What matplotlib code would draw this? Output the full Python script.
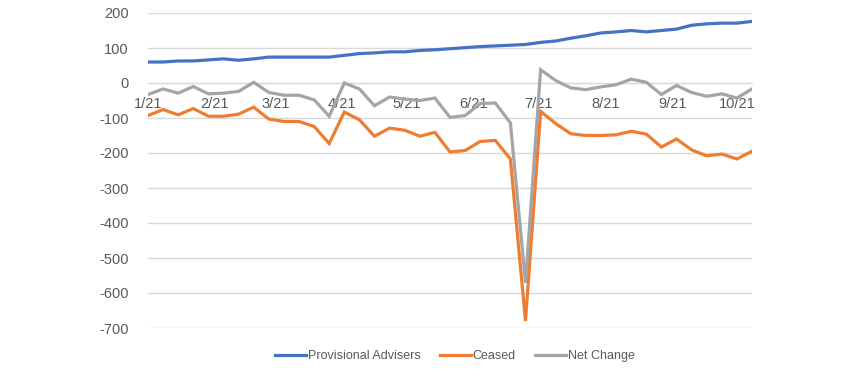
import numpy as np
import pandas as pd
import matplotlib
matplotlib.use("Agg")
import matplotlib.pyplot as plt
import matplotlib.dates as mdates

weeks = pd.date_range("2021-01-01", periods=41, freq="7D")

provisional = [60, 60, 63, 63, 66, 69, 65, 69, 74, 74, 74, 74, 74, 79, 84, 86, 89, 89, 93, 95,
               98, 101, 104, 106, 108, 110, 116, 120, 128, 135, 143, 146, 150, 146, 150, 154,
               165, 169, 171, 171, 176]
ceased = [-93, -76, -91, -73, -95, -95, -89, -69, -103, -110, -110, -124, -173, -83, -105, -152,
          -129, -135, -152, -141, -197, -193, -167, -164, -217, -680, -81, -116, -145, -150,
          -150, -148, -138, -146, -183, -160, -191, -208, -203, -217, -195]
net_change = [-33, -17, -29, -10, -31, -29, -24, 2, -27, -35, -35, -48, -95, 0, -17, -65,
              -40, -46, -50, -43, -98, -93, -59, -57, -114, -571, 38, 7, -14, -19, -11, -5,
              11, 2, -33, -7, -27, -38, -31, -43, -17]

series = [("Provisional Advisers", provisional, "#4472C4"),
          ("Ceased", ceased, "#ED7D31"),
          ("Net Change", net_change, "#A5A5A5")]

plt.rcParams["font.family"] = ["Liberation Sans", "DejaVu Sans"]
plt.rcParams["axes.unicode_minus"] = False
txt = "#595959"

fig = plt.figure(figsize=(8.59, 3.75), dpi=100)
ax = fig.add_axes([148 / 859, 47 / 375, 604 / 859, 315 / 375])

for name, vals, col in series:
    ax.plot(weeks, vals, color=col, lw=2.3, label=name, solid_joinstyle="miter")

ax.set_xlim(weeks[0], weeks[-1])
ax.set_ylim(-700, 200)
ax.set_yticks(np.arange(-700, 201, 100))
ax.yaxis.grid(True, color="#D9D9D9", lw=1)
ax.set_axisbelow(True)

ax.xaxis.set_major_locator(mdates.MonthLocator())
ax.xaxis.set_major_formatter(mdates.DateFormatter("%-m/%y"))

for s in ["top", "right", "left"]:
    ax.spines[s].set_visible(False)
ax.spines["bottom"].set_position(("data", 0))
ax.spines["bottom"].set_color("#D9D9D9")
ax.spines["bottom"].set_zorder(0)

ax.tick_params(axis="both", length=0, labelsize=10.5, colors=txt)
ax.tick_params(axis="x", pad=10)
ax.tick_params(axis="y", pad=14)

ax.legend(loc="center", bbox_to_anchor=(0.508, -0.09), ncol=3, frameon=False,
          fontsize=9, labelcolor=txt, handlelength=2.5, handletextpad=0.15,
          columnspacing=1.5)

fig.savefig("out.png", dpi=100)
